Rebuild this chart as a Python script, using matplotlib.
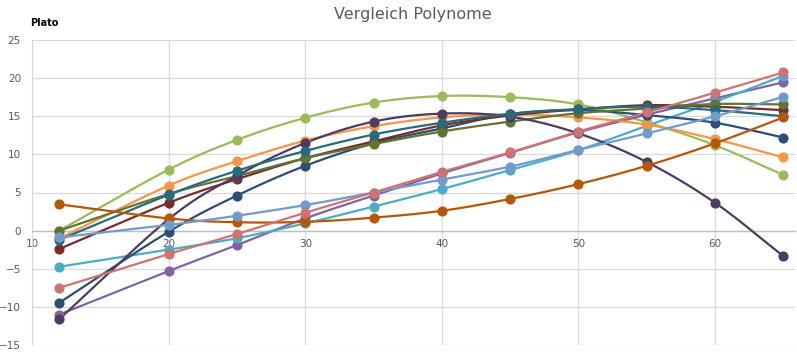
import numpy as np
from matplotlib import pyplot as plt

# Messpunkte (x-Achse)
x = [12, 20, 25, 30, 35, 40, 45, 50, 55, 60, 65]

# Werte der einzelnen Polynome
hellgruen   = [0.0, 8.0, 11.9, 14.8, 16.8, 17.65, 17.5, 16.55, 14.2, 11.2, 7.3]
orange      = [-1.0, 5.9, 9.1, 11.8, 13.7, 14.85, 15.25, 14.85, 13.9, 12.0, 9.6]
petrol      = [-1.2, 4.7, 7.85, 10.45, 12.6, 14.15, 15.3, 15.95, 16.25, 15.8, 15.0]
dunkellila  = [-11.6, 1.5, 7.2, 11.5, 14.3, 15.35, 14.95, 12.75, 9.0, 3.65, -3.35]
dunkelblau  = [-9.45, -0.15, 4.6, 8.5, 11.45, 13.4, 15.3, 15.8, 15.15, 14.15, 12.2]
dunkelrot   = [-2.4, 3.65, 6.75, 9.5, 11.7, 13.8, 15.1, 15.9, 16.45, 16.25, 15.8]
dunkelgruen = [0.0, 4.8, 7.15, 9.5, 11.35, 13.0, 14.3, 15.4, 16.0, 16.6, 16.55]
dunkelorange= [3.45, 1.6, 1.1, 1.15, 1.7, 2.6, 4.15, 6.1, 8.5, 11.45, 14.85]
hellblau    = [-0.9, 0.75, 1.95, 3.35, 5.0, 6.7, 8.4, 10.6, 12.75, 15.0, 17.55]
rosa        = [-7.5, -3.07, -0.45, 2.35, 5.0, 7.7, 10.25, 13.0, 15.5, 18.1, 20.75]
lila        = [-11.0, -5.3, -1.9, 1.6, 4.6, 7.5, 10.2, 12.9, 15.2, 17.35, 19.45]
aqua        = [-4.73, -2.5, -1.0, 0.95, 3.15, 5.45, 7.95, 10.55, 13.75, 16.9, 20.3]

serien = [
    (hellgruen, '#9BBB59'),
    (lila, '#8064A2'),
    (aqua, '#4BACC6'),
    (orange, '#F79646'),
    (dunkelblau, '#2C4D75'),
    (dunkelrot, '#772C2A'),
    (dunkelgruen, '#5F7530'),
    (dunkellila, '#4D3B62'),
    (petrol, '#276A7C'),
    (dunkelorange, '#B65708'),
    (hellblau, '#729ACA'),
    (rosa, '#CD7371'),
]

yticks = [-15, -10, -5, 0, 5, 10, 15, 20, 25]
xticks = [10, 20, 30, 40, 50, 60]


# geglaettete Linie wie in Excel (Catmull-Rom)
def glatt(xs, ys, n=20):
    xs = np.asarray(xs, float)
    ys = np.asarray(ys, float)
    px = np.concatenate([[2 * xs[0] - xs[1]], xs, [2 * xs[-1] - xs[-2]]])
    py = np.concatenate([[2 * ys[0] - ys[1]], ys, [2 * ys[-1] - ys[-2]]])
    ox, oy = [], []
    t = np.linspace(0, 1, n, endpoint=False)
    for i in range(1, len(px) - 2):
        for p, o in ((px, ox), (py, oy)):
            p0, p1, p2, p3 = p[i - 1], p[i], p[i + 1], p[i + 2]
            o.extend(0.5 * (2 * p1 + (-p0 + p2) * t
                            + (2 * p0 - 5 * p1 + 4 * p2 - p3) * t ** 2
                            + (-p0 + 3 * p1 - 3 * p2 + p3) * t ** 3))
    ox.append(xs[-1])
    oy.append(ys[-1])
    return ox, oy


fig = plt.figure(figsize=(7.97, 3.54), dpi=100)
ax = fig.add_axes([32 / 797, 9 / 354, 763 / 797, 305 / 354])

for werte, farbe in serien:
    sx, sy = glatt(x, werte)
    ax.plot(sx, sy, color=farbe, lw=1.6, zorder=3, solid_capstyle='round')
    ax.plot(x, werte, 'o', color=farbe, ms=6.3, zorder=4)

ax.set_xlim(10, 65.85)
ax.set_ylim(-15, 25)
ax.set_yticks(yticks)
ax.set_xticks(xticks)
ax.grid(True, color='#D9D9D9', lw=0.9)
ax.set_axisbelow(True)
for s in ['top', 'right']:
    ax.spines[s].set_visible(False)
ax.spines['left'].set_color('#D9D9D9')
ax.spines['bottom'].set_position(('data', 0))
ax.spines['bottom'].set_color('#BFBFBF')
ax.spines['bottom'].set_linewidth(1.0)
ax.tick_params(length=0, labelsize=7.5, labelcolor='#595959')
ax.tick_params(axis='x', pad=6)
ax.tick_params(axis='y', pad=8)

fig.text(0.518, 0.96, 'Vergleich Polynome', ha='center', va='center',
         fontsize=11.5, color='#595959')
fig.text(0.038, 0.935, 'Plato', ha='left', va='center', fontsize=7,
         fontweight='bold', color='black')

plt.savefig('out.png', dpi=100)
